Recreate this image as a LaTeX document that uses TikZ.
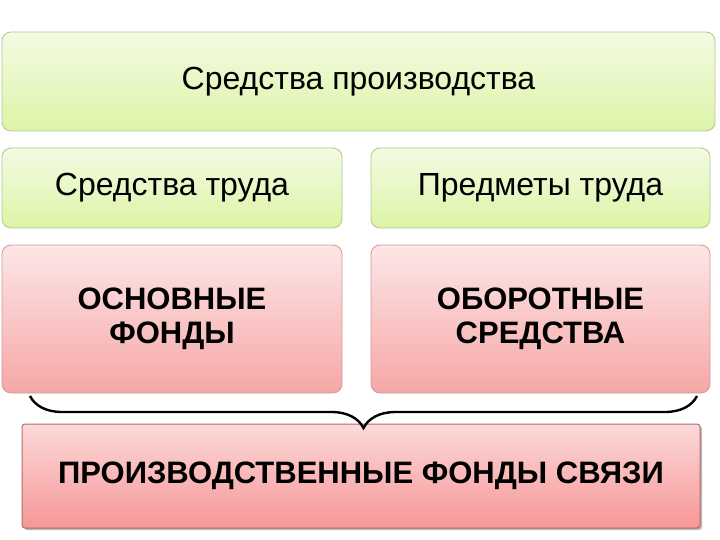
\documentclass[tikz,border=0pt]{standalone}
\usepackage{fontspec}
\setmainfont{Liberation Sans}
\usetikzlibrary{decorations.pathreplacing,shadows}
\definecolor{greentop}{HTML}{F3FBE4}
\definecolor{greenbot}{HTML}{DDF4A6}
\definecolor{greenline}{HTML}{B2C68C}
\definecolor{pinktop}{HTML}{FDE6E6}
\definecolor{pinkbot}{HTML}{F6A7A7}
\definecolor{pinkline}{HTML}{D29A9A}
\definecolor{linkline}{HTML}{B86868}
\begin{document}
\begin{tikzpicture}[x=1pt, y=-1pt,
	every node/.style={text centered, inner sep=0pt, outer sep=0pt},
	greenbox/.style={rectangle, rounded corners=9pt, draw=greenline, line width=0.8pt,
		top color=greentop, bottom color=greenbot},
	pinkbox/.style={rectangle, rounded corners=9pt, draw=pinkline, line width=0.8pt,
		top color=pinktop, bottom color=pinkbot},
	linkbox/.style={rectangle, rounded corners=3pt, draw=linkline, line width=1pt,
		top color=pinktop!80!pinkbot, bottom color=pinkbot!90!red,
		drop shadow={shadow xshift=2pt, shadow yshift=-2pt, fill=black!55}},
	normtext/.style={font=\fontsize{32}{38}\selectfont},
	boldtext/.style={font=\bfseries\fontsize{31}{34}\selectfont, align=center}]
	\useasboundingbox (0, 0) rectangle (720, 540);
	\draw 	(358.5, 81.5)	node[greenbox, normtext, minimum width=713pt, minimum height=99pt] (sp)
				{Средства производства}
			(172, 188)		node[greenbox, normtext, minimum width=340pt, minimum height=80pt] (st)
				{Средства труда}
			(540.5, 188)	node[greenbox, normtext, minimum width=339pt, minimum height=80pt] (pt)
				{Предметы труда}
			(172, 319)		node[pinkbox, boldtext, minimum width=340pt, minimum height=148pt] (of)
				{ОСНОВНЫЕ\\ФОНДЫ}
			(540.5, 319)	node[pinkbox, boldtext, minimum width=339pt, minimum height=148pt] (os)
				{ОБОРОТНЫЕ\\СРЕДСТВА}
			(361, 476)		node[linkbox, boldtext, minimum width=678pt, minimum height=104pt] (pf)
				{ПРОИЗВОДСТВЕННЫЕ ФОНДЫ СВЯЗИ}
;
	% brace under the two lower boxes
	\coordinate (bl) at ([xshift=28pt, yshift=-3pt]of.south west);
	\coordinate (br) at ([xshift=-13pt, yshift=-3pt]os.south east);
	\draw[line width=2.4pt, decorate, decoration={brace, mirror, amplitude=32pt}]
		(bl) -- (br);
\end{tikzpicture}
\end{document}
